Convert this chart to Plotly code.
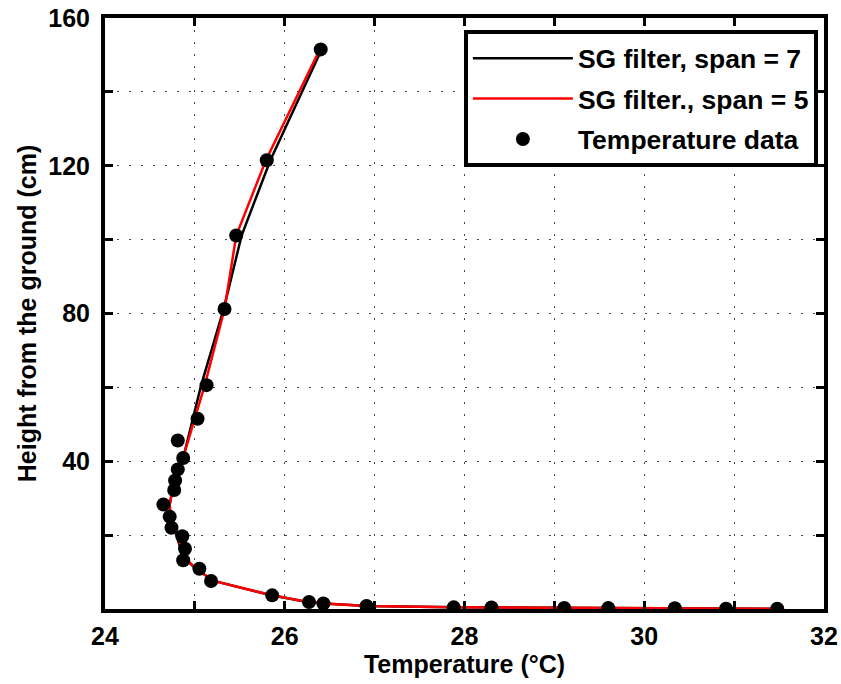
import plotly.graph_objects as go

# Heights (cm) of each measurement, top to bottom
height = [151.5, 121.5, 101.1, 81.2, 60.6, 51.5, 45.6, 40.9, 37.8, 34.8,
          32.2, 28.3, 25.0, 22.0, 19.7, 16.3, 13.2, 10.9, 7.6, 3.7,
          1.9, 1.5, 0.8, 0.45, 0.4, 0.3, 0.25, 0.2, 0.1, 0.05]

# Measured temperature (°C)
temp_data = [26.40, 25.80, 25.46, 25.33, 25.13, 25.03, 24.81, 24.87, 24.81, 24.78,
             24.77, 24.65, 24.72, 24.74, 24.86, 24.89, 24.87, 25.05, 25.18, 25.86,
             26.27, 26.43, 26.91, 27.88, 28.30, 29.11, 29.60, 30.34, 30.91, 31.48]

# SG filter, span = 7
temp_sg7 = [26.41, 25.84, 25.52, 25.32, 25.07, 24.98, 24.92, 24.87, 24.83, 24.79,
            24.75, 24.72, 24.73, 24.76, 24.80, 24.84, 24.91, 25.01, 25.21, 25.85,
            26.25, 26.44, 26.92, 27.88, 28.30, 29.11, 29.60, 30.34, 30.91, 31.48]

# SG filter, span = 5
temp_sg5 = [26.39, 25.79, 25.46, 25.33, 25.11, 25.00, 24.93, 24.87, 24.83, 24.78,
            24.75, 24.72, 24.72, 24.76, 24.81, 24.85, 24.92, 25.01, 25.21, 25.86,
            26.26, 26.43, 26.92, 27.88, 28.30, 29.11, 29.60, 30.34, 30.91, 31.48]

x_ticks = [24, 25, 26, 27, 28, 29, 30, 31, 32]
x_ticktext = ["24", "", "26", "", "28", "", "30", "", "32"]
y_ticks = [0, 20, 40, 60, 80, 100, 120, 140, 160]
y_ticktext = ["", "", "40", "", "80", "", "120", "", "160"]

FONT = "Liberation Sans, Arial, sans-serif"

fig = go.Figure()
fig.add_trace(go.Scatter(x=temp_sg7, y=height, mode="lines", name="SG filter, span = 7",
                         line=dict(color="black", width=2.5), legendgroup="a"))
fig.add_trace(go.Scatter(x=temp_sg5, y=height, mode="lines", name="SG filter., span = 5",
                         line=dict(color="#ff0000", width=2.5), legendgroup="b"))
fig.add_trace(go.Scatter(x=temp_data, y=height, mode="markers", name="Temperature data",
                         marker=dict(color="black", size=14), legendgroup="c"))

axis_common = dict(
    showline=True, linecolor="black", linewidth=4, mirror="ticks",
    ticks="inside", ticklen=8, tickwidth=3, tickcolor="black",
    showgrid=True, gridcolor="#444444", gridwidth=1.3, griddash="2px,10px",
    zeroline=False, automargin=False,
    tickfont=dict(family=FONT, size=25, color="black", weight="bold"),
    title_font=dict(family=FONT, size=25, color="black", weight="bold"),
)

fig.update_xaxes(range=[24, 32], tickvals=x_ticks, ticktext=x_ticktext,
                 title_text="Temperature (°C)", title_standoff=0,
                 ticklabelstandoff=2, **axis_common)
fig.update_yaxes(range=[0, 160], tickvals=y_ticks, ticktext=y_ticktext,
                 title_text="Height from the ground (cm)", title_standoff=6,
                 ticklabelstandoff=6, **axis_common)

fig.update_layout(
    width=841, height=684,
    margin=dict(l=104.5, r=16.5, t=17.5, b=74.5),
    plot_bgcolor="white", paper_bgcolor="white",
    font=dict(family=FONT, color="black"),
    legend=dict(
        x=0.9915, y=0.979, xanchor="right", yanchor="top",
        bgcolor="white", bordercolor="black", borderwidth=4,
        font=dict(family=FONT, size=26.5, color="black", weight="bold"),
        itemwidth=100, tracegroupgap=3,
    ),
)

fig.write_html("out.html", config={"displayModeBar": False},
               post_script="document.body.style.margin='0px';")
